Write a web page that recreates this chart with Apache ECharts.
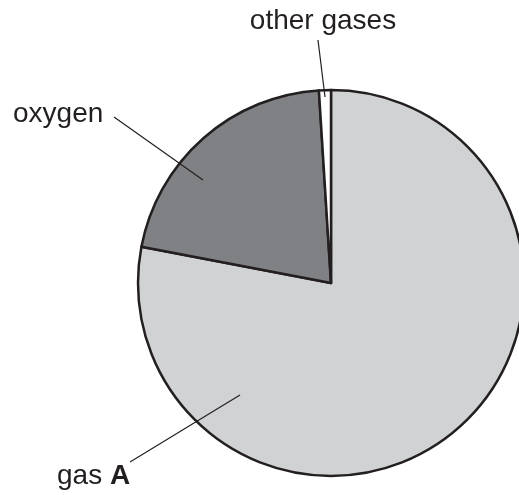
<!DOCTYPE html>
<html>
<head>
<meta charset="utf-8">
<script src="https://cdn.jsdelivr.net/npm/echarts@6/dist/echarts.min.js"></script>
<style>
  html, body { margin: 0; padding: 0; background: #fff; }
  #main { width: 519px; height: 495px; }
</style>
</head>
<body>
<div id="main"></div>
<script>
  // composition of air, percent (clockwise from 12 o'clock)
  var gases = ['gas A', 'oxygen', 'other gases'];
  var percents = [78, 21, 1];
  var fills = ['#d1d2d4', '#808184', '#ffffff'];

  // where each label sits and where its pointer line goes: [labelX, labelY, align, lineFrom, lineTo]
  var labelSpots = [
    [57, 476, 'left', [130, 462], [240, 395]],
    [13, 114, 'left', [114, 117], [203, 180]],
    [323, 21, 'center', [318, 40], [325, 97]]
  ];

  var font = 'Liberation Sans, Arial, sans-serif';
  var ink = '#231f20';

  var myChart = echarts.init(document.getElementById('main'));

  var pieData = [];
  var labelData = [];
  for (var i = 0; i < gases.length; i++) {
    pieData.push({ value: percents[i], name: gases[i], itemStyle: { color: fills[i] } });
    labelData.push({ value: percents[i], name: gases[i] });
  }

  var option = {
    animation: false,
    series: [
      // the filled slices
      {
        type: 'pie',
        z: 2,
        center: [331, 283],
        radius: 193,
        startAngle: 90,
        clockwise: true,
        silent: true,
        itemStyle: { borderColor: ink, borderWidth: 2.5 },
        label: { show: false },
        labelLine: { show: false },
        data: pieData
      },
      // same slices, see-through, only carrying the labels so the pointer lines sit on top
      {
        type: 'pie',
        z: 5,
        center: [331, 283],
        radius: 193,
        startAngle: 90,
        clockwise: true,
        silent: true,
        itemStyle: { color: 'rgba(0,0,0,0)', borderWidth: 0 },
        label: {
          show: true,
          position: 'outside',
          overflow: 'none',
          color: ink,
          fontFamily: font,
          fontSize: 28,
          formatter: function (p) {
            if (p.name === 'gas A') return '{n|gas }{b|A}';
            return p.name;
          },
          rich: {
            n: { fontSize: 28, fontFamily: font, color: ink },
            b: { fontSize: 28, fontWeight: 'bold', fontFamily: font, color: ink }
          }
        },
        labelLine: {
          show: true,
          lineStyle: { color: ink, width: 1.2 }
        },
        labelLayout: function (params) {
          var s = labelSpots[params.dataIndex];
          return {
            x: s[0],
            y: s[1],
            align: s[2],
            verticalAlign: 'middle',
            labelLinePoints: [s[4], s[4], s[3]]
          };
        },
        data: labelData
      }
    ]
  };
  myChart.setOption(option);
</script>
</body>
</html>
